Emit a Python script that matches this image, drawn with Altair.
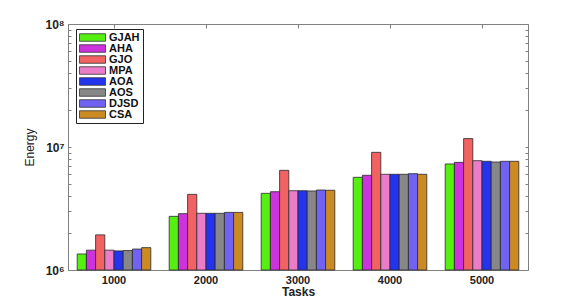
import altair as alt
import pandas as pd

tasks = ["1000", "2000", "3000", "4000", "5000"]
algorithms = ["GJAH", "AHA", "GJO", "MPA", "AOA", "AOS", "DJSD", "CSA"]
colors = ["#55F011", "#CC33DD", "#F26262", "#EA7CC8", "#2333EE", "#878787", "#7062F2", "#CC8A22"]

gjah = [1.35e6, 2.73e6, 4.20e6, 5.67e6, 7.28e6]
aha = [1.45e6, 2.87e6, 4.33e6, 5.89e6, 7.50e6]
gjo = [1.93e6, 4.12e6, 6.46e6, 9.05e6, 11.7e6]
mpa = [1.45e6, 2.89e6, 4.41e6, 6.00e6, 7.74e6]
aoa = [1.43e6, 2.89e6, 4.41e6, 6.00e6, 7.65e6]
aos = [1.44e6, 2.89e6, 4.39e6, 6.00e6, 7.55e6]
djsd = [1.48e6, 2.94e6, 4.47e6, 6.07e6, 7.65e6]
csa = [1.52e6, 2.94e6, 4.45e6, 6.00e6, 7.65e6]

series = [gjah, aha, gjo, mpa, aoa, aos, djsd, csa]
rows = []
for alg, vals in zip(algorithms, series):
    for t, v in zip(tasks, vals):
        rows.append({"Tasks": t, "Algorithm": alg, "Energy": v})
df = pd.DataFrame(rows)

minor_ticks = [m * 10 ** e for e in (6, 7) for m in range(1, 10)] + [1e8]
FONT = "Liberation Sans"
AX = "#808080"
W, H = 460, 246

xscale = alt.Scale(paddingInner=0.2, paddingOuter=0.1)
yscale = alt.Scale(type="log", domain=[1e6, 1e8])

base = alt.Chart(df)

bars = base.mark_bar(stroke="#2a2a2a", strokeWidth=0.8).encode(
    x=alt.X("Tasks:N", sort=tasks, scale=xscale,
            axis=alt.Axis(title="Tasks", labelAngle=0, ticks=False, domainColor=AX,
                          labelFont=FONT, labelFontWeight="bold", labelFontSize=11,
                          labelColor="#222", labelPadding=4,
                          titleFont=FONT, titleFontSize=12, titleFontWeight="bold",
                          titleColor="#222", titlePadding=1)),
    xOffset=alt.XOffset("Algorithm:N", sort=algorithms,
                        scale=alt.Scale(paddingInner=0, paddingOuter=0)),
    y=alt.Y("Energy:Q", scale=yscale, stack=None,
            axis=alt.Axis(values=[1e6, 1e7, 1e8], ticks=False, grid=False, domainColor=AX,
                          labelExpr="datum.value >= 9e7 ? '10⁸' : (datum.value >= 9e6 ? '10⁷' : '10⁶')",
                          labelFont=FONT, labelFontWeight="bold", labelFontSize=12,
                          labelColor="#222", labelPadding=4,
                          title="Energy", titleFont=FONT, titleFontSize=12,
                          titleFontWeight="normal", titleColor="#222", titlePadding=8)),
    color=alt.Color("Algorithm:N", sort=algorithms,
                    scale=alt.Scale(domain=algorithms, range=colors),
                    legend=alt.Legend(title=None, orient="none", legendX=8, legendY=5,
                                      fillColor="white", strokeColor="#222", padding=3,
                                      labelFont=FONT, labelFontWeight="bold", labelFontSize=11,
                                      labelColor="#111", labelOffset=11, rowPadding=-1,
                                      symbolType="M-2.6,-0.75H2.6V0.75H-2.6Z", symbolSize=100,
                                      symbolOffset=8,
                                      symbolStrokeColor="#333", symbolStrokeWidth=0.8,
                                      symbolOpacity=1)),
)

frame_a = base.mark_bar(opacity=0).encode(
    x=alt.X("Tasks:N", sort=tasks, scale=xscale,
            axis=alt.Axis(orient="bottom", offset=-H, labels=False, title=None,
                          tickSize=4, tickColor=AX, domainColor=AX)),
    y=alt.Y("Energy:Q", scale=yscale, stack=None,
            axis=alt.Axis(orient="left", offset=-W, values=minor_ticks, labels=False,
                          title=None, tickSize=3, tickColor=AX, domainColor=AX, grid=False)),
)

frame_b = base.mark_bar(opacity=0).encode(
    x=alt.X("Tasks:N", sort=tasks, scale=xscale,
            axis=alt.Axis(orient="top", offset=-H, labels=False, title=None,
                          tickSize=4, tickColor=AX, domain=False)),
    y=alt.Y("Energy:Q", scale=yscale, stack=None,
            axis=alt.Axis(orient="right", offset=-W, values=minor_ticks, labels=False,
                          title=None, tickSize=3, tickColor=AX, domain=False, grid=False)),
)

chart = alt.layer(bars, frame_a, frame_b).resolve_axis(
    x="independent", y="independent"
).properties(
    width=W, height=H,
    autosize="none",
    padding={"left": 60, "top": 16, "right": 33, "bottom": 30},
).configure_view(stroke=AX, strokeWidth=1).configure(background="white")

chart.save("out.html", embed_options={"renderer": "svg", "actions": False})
